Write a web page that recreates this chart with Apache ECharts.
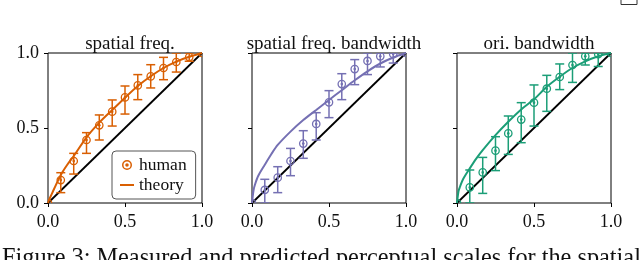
<!DOCTYPE html>
<html>
<head>
<meta charset="utf-8">
<script src="https://cdn.jsdelivr.net/npm/echarts@6/dist/echarts.min.js"></script>
<style>html,body{margin:0;padding:0;background:#fff;}#c{width:640px;height:260px;}</style>
</head>
<body>
<div id="c"></div>
<script>
const panelTitles = ['spatial freq.', 'spatial freq. bandwidth', 'ori. bandwidth'];
const tickLabels = ['0.0', '0.5', '1.0'];
const legendNames = ['human', 'theory'];
const caption = 'Figure 3: Measured and predicted perceptual scales for the spatial';

const humanX = [0, 0.083, 0.167, 0.25, 0.333, 0.417, 0.5, 0.583, 0.667, 0.75, 0.833, 0.917, 1.0];
const theoryX = [0, 0.01, 0.02, 0.04, 0.083, 0.125, 0.167, 0.25, 0.333, 0.417, 0.5, 0.583, 0.667, 0.75, 0.833, 0.917, 1.0];

const sfHuman = [0, 0.153, 0.28, 0.42, 0.518, 0.609, 0.704, 0.784, 0.844, 0.9, 0.94, 0.973, 1.0];
const sfLow   = [0, 0.069, 0.193, 0.331, 0.42, 0.513, 0.593, 0.689, 0.767, 0.822, 0.873, 0.945, 1.0];
const sfHigh  = [0, 0.202, 0.331, 0.469, 0.587, 0.687, 0.78, 0.856, 0.922, 0.971, 1.0, 1.0, 1.0];
const sfTheory = [0, 0.027, 0.05, 0.095, 0.187, 0.255, 0.313, 0.438, 0.536, 0.62, 0.702, 0.78, 0.845, 0.9, 0.943, 0.975, 1.0];

const sbHuman = [0, 0.087, 0.169, 0.28, 0.396, 0.527, 0.671, 0.793, 0.893, 0.947, 0.978, 0.993, 1.0];
const sbLow   = [0, 0.0, 0.069, 0.182, 0.298, 0.42, 0.569, 0.689, 0.789, 0.856, 0.907, 0.933, 1.0];
const sbHigh  = [0, 0.158, 0.242, 0.364, 0.482, 0.602, 0.749, 0.862, 0.956, 1.0, 1.0, 1.0, 1.0];
const sbTheory = [0, 0.085, 0.125, 0.18, 0.255, 0.325, 0.387, 0.476, 0.553, 0.62, 0.687, 0.752, 0.818, 0.878, 0.93, 0.97, 1.0];

const obHuman = [0, 0.104, 0.204, 0.349, 0.464, 0.556, 0.669, 0.762, 0.84, 0.92, 0.978, 0.993, 1.0];
const obLow   = [0, 0.0, 0.064, 0.216, 0.324, 0.402, 0.513, 0.611, 0.756, 0.804, 0.92, 0.91, 1.0];
const obHigh  = [0, 0.22, 0.304, 0.442, 0.58, 0.669, 0.787, 0.851, 0.927, 1.0, 1.0, 1.0, 1.0];
const obTheory = [0, 0.08, 0.11, 0.16, 0.231, 0.296, 0.353, 0.453, 0.542, 0.624, 0.691, 0.775, 0.842, 0.9, 0.944, 0.978, 1.0];

const diagX = [0, 1];
const diagY = [0, 1];

const colors = ['#d95f02', '#7570b3', '#1b9e77'];
const panels = [
  {human: sfHuman, low: sfLow, high: sfHigh, theory: sfTheory},
  {human: sbHuman, low: sbLow, high: sbHigh, theory: sbTheory},
  {human: obHuman, low: obLow, high: obHigh, theory: obTheory}
];
const gridLefts = [48, 252, 457];
const gridW = 154, gridTop = 53, gridH = 150;
const serif = '"Liberation Serif", "DejaVu Serif", serif';

const ringIcon = 'path://M0,-10A10,10 0 1,1 0,10A10,10 0 1,1 0,-10Z M0,-7A7,7 0 1,0 0,7A7,7 0 1,0 0,-7Z M0,-3.5A3.5,3.5 0 1,1 0,3.5A3.5,3.5 0 1,1 0,-3.5Z';
const lineIcon = 'path://M0,0H14V2H0Z';

function renderHuman(params, api) {
  const x = api.value(0), y = api.value(1), lo = api.value(2), hi = api.value(3);
  const color = api.visual('color');
  const p = api.coord([x, y]);
  const pl = api.coord([x, lo]);
  const ph = api.coord([x, hi]);
  const cw = 4.5;
  const children = [];
  const ls = {stroke: color, lineWidth: 1.5};
  if (hi > lo) {
    children.push({type: 'line', shape: {x1: p[0], y1: pl[1], x2: p[0], y2: ph[1]}, style: ls});
    children.push({type: 'line', shape: {x1: p[0] - cw, y1: pl[1], x2: p[0] + cw, y2: pl[1]}, style: ls});
    children.push({type: 'line', shape: {x1: p[0] - cw, y1: ph[1], x2: p[0] + cw, y2: ph[1]}, style: ls});
  }
  children.push({type: 'circle', shape: {cx: p[0], cy: p[1], r: 3.7}, style: {stroke: color, lineWidth: 1.3, fill: 'rgba(255,255,255,0)'}});
  children.push({type: 'circle', shape: {cx: p[0], cy: p[1], r: 1.3}, style: {fill: color}});
  return {type: 'group', children: children};
}

const grids = [], xAxes = [], yAxes = [], series = [], titles = [];
panels.forEach((pd, i) => {
  grids.push({left: gridLefts[i], top: gridTop, width: gridW, height: gridH, show: true,
    borderColor: '#000', borderWidth: 1, backgroundColor: 'transparent'});
  const axisCommon = {
    min: 0, max: 1, interval: 0.5, gridIndex: i,
    axisLine: {show: false},
    axisTick: {show: true, inside: false, length: 4, lineStyle: {color: '#000', width: 1}},
    splitLine: {show: false},
  };
  xAxes.push(Object.assign({type: 'value'}, axisCommon, {
    axisLabel: {show: true, margin: 10, color: '#111', fontFamily: serif, fontSize: 18,
      formatter: v => tickLabels[Math.round(v * 2)]}
  }));
  yAxes.push(Object.assign({type: 'value'}, axisCommon, {
    axisLabel: {show: i === 0, margin: 9, color: '#111', fontFamily: serif, fontSize: 18,
      formatter: v => tickLabels[Math.round(v * 2)]}
  }));
  titles.push({text: panelTitles[i], left: gridLefts[i] + gridW / 2, top: 30, textAlign: 'center',
    textStyle: {fontFamily: serif, fontSize: 19, fontWeight: 'normal', color: '#111'}});
  series.push({
    type: 'line', name: 'diag' + i, xAxisIndex: i, yAxisIndex: i, symbol: 'none', silent: true,
    data: diagX.map((x, k) => [x, diagY[k]]),
    lineStyle: {color: '#000', width: 1.8}, clip: true, z: 2
  });
  series.push({
    type: 'line', name: i === 0 ? legendNames[1] : 'theory' + i, xAxisIndex: i, yAxisIndex: i,
    symbol: 'none', smooth: 0.3, silent: true,
    data: theoryX.map((x, k) => [x, pd.theory[k]]),
    itemStyle: {color: colors[i]},
    lineStyle: {color: colors[i], width: 2}, clip: true, z: 3
  });
  series.push({
    type: 'custom', name: i === 0 ? legendNames[0] : 'human' + i, xAxisIndex: i, yAxisIndex: i,
    renderItem: renderHuman, clip: true, z: 4,
    itemStyle: {color: colors[i]},
    encode: {x: 0, y: 1},
    data: humanX.map((x, k) => [x, pd.human[k], pd.low[k], pd.high[k]])
  });
});

const chart = echarts.init(document.getElementById('c'), null, {renderer: 'canvas'});
chart.setOption({
  animation: false,
  title: titles,
  grid: grids,
  xAxis: xAxes,
  yAxis: yAxes,
  legend: {
    show: true, orient: 'vertical', left: 112, top: 151,
    padding: [5, 9, 5, 8], itemGap: 2, itemWidth: 14, itemHeight: 10,
    backgroundColor: '#fff', borderColor: '#555', borderWidth: 1, borderRadius: 4,
    textStyle: {fontFamily: serif, fontSize: 17.5, color: '#111', padding: [0, 0, 0, 0]},
    selectedMode: false,
    data: [
      {name: legendNames[0], icon: ringIcon, itemStyle: {color: colors[0]}},
      {name: legendNames[1], icon: lineIcon, itemStyle: {color: colors[0]}}
    ]
  },
  graphic: [
    {type: 'text', left: 2, top: 247, style: {text: caption, font: '24.3px ' + serif, fill: '#111'}},
    {type: 'rect', shape: {x: 621, y: -10, width: 16, height: 14.5}, style: {stroke: '#333', lineWidth: 1, fill: 'none'}}
  ],
  series: series
});
</script>
</body>
</html>
